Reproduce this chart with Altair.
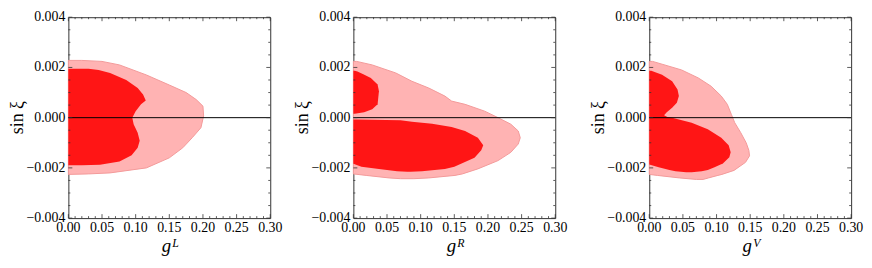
import altair as alt
import pandas as pd

# ---------------- data ----------------
x_ticks = [0.0, 0.05, 0.10, 0.15, 0.20, 0.25, 0.30]
x_minor = [0.01, 0.02, 0.03, 0.04, 0.06, 0.07, 0.08, 0.09, 0.11, 0.12, 0.13, 0.14,
           0.16, 0.17, 0.18, 0.19, 0.21, 0.22, 0.23, 0.24, 0.26, 0.27, 0.28, 0.29]
y_ticks = [-0.004, -0.002, 0.0, 0.002, 0.004]
y_minor = [-0.0035, -0.003, -0.0025, -0.0015, -0.001, -0.0005,
           0.0005, 0.001, 0.0015, 0.0025, 0.003, 0.0035]
zero_line = [0.0]
x_title_base = "g"
x_title_sup = ["L", "R", "V"]
y_title = "sin ξ"

# panel 1 (g^L)
p1_outer_y  = [0.00228, 0.00224, 0.0021, 0.0017, 0.0013, 0.0010, 0.00072, 0.00046, 0.00007,
               -0.0004, -0.0008, -0.0012, -0.0016, -0.0020, -0.0022, -0.00224, -0.00226]
p1_outer_hi = [0.020, 0.050, 0.076, 0.116, 0.150, 0.175, 0.190, 0.200, 0.201,
               0.197, 0.184, 0.170, 0.150, 0.116, 0.062, 0.030, 0.000]
p1_outer_lo = [0.0] * 17
p1_inner_y  = [0.00195, 0.0019, 0.00178, 0.0015, 0.00118, 0.00092, 0.00068, 0.00053, 0.00026, 0.0,
               -0.00026, -0.0006, -0.00092, -0.0012, -0.0015, -0.00175, -0.00188, -0.0019]
p1_inner_hi = [0.030, 0.045, 0.062, 0.086, 0.103, 0.111, 0.115, 0.108, 0.100, 0.095,
               0.097, 0.103, 0.106, 0.103, 0.094, 0.076, 0.047, 0.020]
p1_inner_lo = [0.0] * 18

# panel 2 (g^R)
p2_outer_y  = [0.00224, 0.0021, 0.00178, 0.00145, 0.00118, 0.00086, 0.00066, 0.00053, 0.00026, 0.0,
               -0.00026, -0.00053, -0.0008, -0.00105, -0.00138, -0.00171, -0.00204, -0.00224,
               -0.0023, -0.0024, -0.00243]
p2_outer_hi = [0.005, 0.028, 0.063, 0.087, 0.112, 0.136, 0.146, 0.166, 0.195, 0.215,
               0.234, 0.245, 0.248, 0.245, 0.234, 0.215, 0.185, 0.162,
               0.151, 0.112, 0.090]
p2_outer_lo = [0.0] * 18 + [0.019, 0.053, 0.070]
p2_innerA_y  = [0.00187, 0.00184, 0.00174, 0.00158, 0.00132, 0.00105, 0.00079, 0.00053,
                0.00033, 0.00022, 0.00016]
p2_innerA_hi = [0.002, 0.006, 0.014, 0.026, 0.036, 0.038, 0.037, 0.036, 0.028, 0.016, 0.002]
p2_innerA_lo = [0.0] * 11
p2_innerB_y  = [-0.00007, -0.0001, -0.00016, -0.00024, -0.00037, -0.00053, -0.0008, -0.0011,
                -0.0013, -0.0016, -0.00184, -0.00195, -0.00204, -0.00213, -0.00215]
p2_innerB_hi = [0.005, 0.070, 0.087, 0.117, 0.146, 0.166, 0.185, 0.193,
                0.190, 0.180, 0.160, 0.150, 0.136, 0.102, 0.085]
p2_innerB_lo = [0.0] * 11 + [0.012, 0.038, 0.065, 0.080]

# panel 3 (g^V)
p3_outer_y  = [0.00224, 0.00213, 0.0019, 0.00158, 0.00125, 0.00086, 0.00053, 0.00013,
               -0.0002, -0.0006, -0.001, -0.0013, -0.00152, -0.00178, -0.0021, -0.00226,
               -0.0023, -0.0024, -0.00246]
p3_outer_hi = [0.005, 0.019, 0.048, 0.073, 0.092, 0.107, 0.116, 0.122,
               0.127, 0.136, 0.144, 0.148, 0.149, 0.143, 0.126, 0.108,
               0.102, 0.088, 0.080]
p3_outer_lo = [0.0] * 16 + [0.012, 0.045, 0.070]
p3_inner_y  = [0.00187, 0.00171, 0.00145, 0.00112, 0.00086, 0.00059, 0.00039, 0.00022, 0.0001,
               0.00003, 0.0, -0.0002, -0.00046, -0.0008, -0.0011, -0.00138, -0.00158, -0.00184,
               -0.00187, -0.00197, -0.00208, -0.00213, -0.00217]
p3_inner_hi = [0.003, 0.019, 0.034, 0.042, 0.044, 0.041, 0.034, 0.026, 0.022,
               0.027, 0.034, 0.063, 0.087, 0.107, 0.118, 0.121, 0.119, 0.109,
               0.106, 0.097, 0.087, 0.078, 0.063]
p3_inner_lo = [0.0] * 19 + [0.014, 0.030, 0.039, 0.055]

# ---------------- styling ----------------
W, H = 204, 203
FONT = "Liberation Serif"
OUTER_FILL = "#FFB3B3"
OUTER_STROKE = "#F39A9A"
INNER_FILL = "#FF1515"
FRAME = "#333333"
LABEL_SIZE = 14

xscale = alt.Scale(domain=[0, 0.3], nice=False, zero=False)
yscale = alt.Scale(domain=[-0.004, 0.004], nice=False, zero=False)


def contour(ys, his, los, fill, stroke=None):
    df = pd.DataFrame({"y": ys, "x": his, "x0": los})
    kw = dict(orient="horizontal", fill=fill, opacity=1, interpolate="linear")
    if stroke:
        kw.update(stroke=stroke, strokeWidth=1)
    return alt.Chart(df).mark_area(**kw).encode(
        y=alt.Y("y:Q", scale=yscale, axis=None),
        x=alt.X("x:Q", scale=xscale, axis=None),
        x2="x0:Q",
    )


def zero_layer():
    return alt.Chart(pd.DataFrame({"v": zero_line})).mark_rule(
        color="black", strokeWidth=1).encode(
        y=alt.Y("v:Q", scale=yscale, axis=None), x=alt.value(0), x2=alt.value(W))


def tick_layers():
    xm = pd.DataFrame({"v": x_ticks})
    xn = pd.DataFrame({"v": x_minor})
    ym = pd.DataFrame({"v": y_ticks})
    yn = pd.DataFrame({"v": y_minor})
    layers = []
    for df, ln in ((xm, 4), (xn, 2)):
        base = alt.Chart(df).mark_rule(color=FRAME, strokeWidth=0.8)
        layers.append(base.encode(x=alt.X("v:Q", scale=xscale, axis=None),
                                  y=alt.value(H), y2=alt.value(H - ln)))
        layers.append(base.encode(x=alt.X("v:Q", scale=xscale, axis=None),
                                  y=alt.value(0), y2=alt.value(ln)))
    for df, ln in ((ym, 4), (yn, 2)):
        base = alt.Chart(df).mark_rule(color=FRAME, strokeWidth=0.8)
        layers.append(base.encode(y=alt.Y("v:Q", scale=yscale, axis=None),
                                  x=alt.value(0), x2=alt.value(ln)))
        layers.append(base.encode(y=alt.Y("v:Q", scale=yscale, axis=None),
                                  x=alt.value(W), x2=alt.value(W - ln)))
    return layers


def label_layers():
    xl = alt.Chart(pd.DataFrame({"v": x_ticks})).mark_text(
        font=FONT, fontSize=LABEL_SIZE, color="black", align="center", baseline="top"
    ).encode(x=alt.X("v:Q", scale=xscale, axis=None), y=alt.value(H + 3),
             text=alt.Text("v:Q", format=".2f"))
    yl = alt.Chart(pd.DataFrame({"v": y_ticks})).transform_calculate(
        lab="replace(format(datum.v, '.3f'), '-', '−')"
    ).mark_text(
        font=FONT, fontSize=LABEL_SIZE, color="black", align="right", baseline="middle"
    ).encode(y=alt.Y("v:Q", scale=yscale, axis=None), x=alt.value(-3), text="lab:N")
    return [xl, yl]


def title_layers(sup):
    g = alt.Chart(pd.DataFrame({"t": [x_title_base]})).mark_text(
        font=FONT, fontSize=19, fontStyle="italic", color="black", align="center",
        baseline="alphabetic").encode(text="t:N", x=alt.value(W / 2 - 3), y=alt.value(H + 34))
    s = alt.Chart(pd.DataFrame({"t": [sup]})).mark_text(
        font=FONT, fontSize=12, fontStyle="italic", color="black", align="left",
        baseline="alphabetic").encode(text="t:N", x=alt.value(W / 2 + 3), y=alt.value(H + 29))
    yt = alt.Chart(pd.DataFrame({"t": [y_title]})).mark_text(
        font=FONT, fontSize=18, color="black", align="center", baseline="middle",
        angle=270).encode(text="t:N", x=alt.value(-51), y=alt.value(H / 2))
    return [g, s, yt]


def panel(contours, sup):
    layers = []
    for ys, his, los, fill, stroke in contours:
        layers.append(contour(ys, his, los, fill, stroke))
    layers.append(zero_layer())
    layers += tick_layers()
    layers += label_layers()
    layers += title_layers(sup)
    return alt.layer(*layers).properties(width=W, height=H)


p1 = panel([(p1_outer_y, p1_outer_hi, p1_outer_lo, OUTER_FILL, OUTER_STROKE),
            (p1_inner_y, p1_inner_hi, p1_inner_lo, INNER_FILL, None)], x_title_sup[0])
p2 = panel([(p2_outer_y, p2_outer_hi, p2_outer_lo, OUTER_FILL, OUTER_STROKE),
            (p2_innerA_y, p2_innerA_hi, p2_innerA_lo, INNER_FILL, None),
            (p2_innerB_y, p2_innerB_hi, p2_innerB_lo, INNER_FILL, None)], x_title_sup[1])
p3 = panel([(p3_outer_y, p3_outer_hi, p3_outer_lo, OUTER_FILL, OUTER_STROKE),
            (p3_inner_y, p3_inner_hi, p3_inner_lo, INNER_FILL, None)], x_title_sup[2])

left = alt.hconcat(p1, p2, spacing=10)
chart = alt.hconcat(left, p3, spacing=21).properties(
    padding={"left": 0, "top": 0, "right": 0, "bottom": 0}
).configure_view(stroke=FRAME, strokeWidth=1)

chart.save("out.html", embed_options={"renderer": "svg", "actions": False})
